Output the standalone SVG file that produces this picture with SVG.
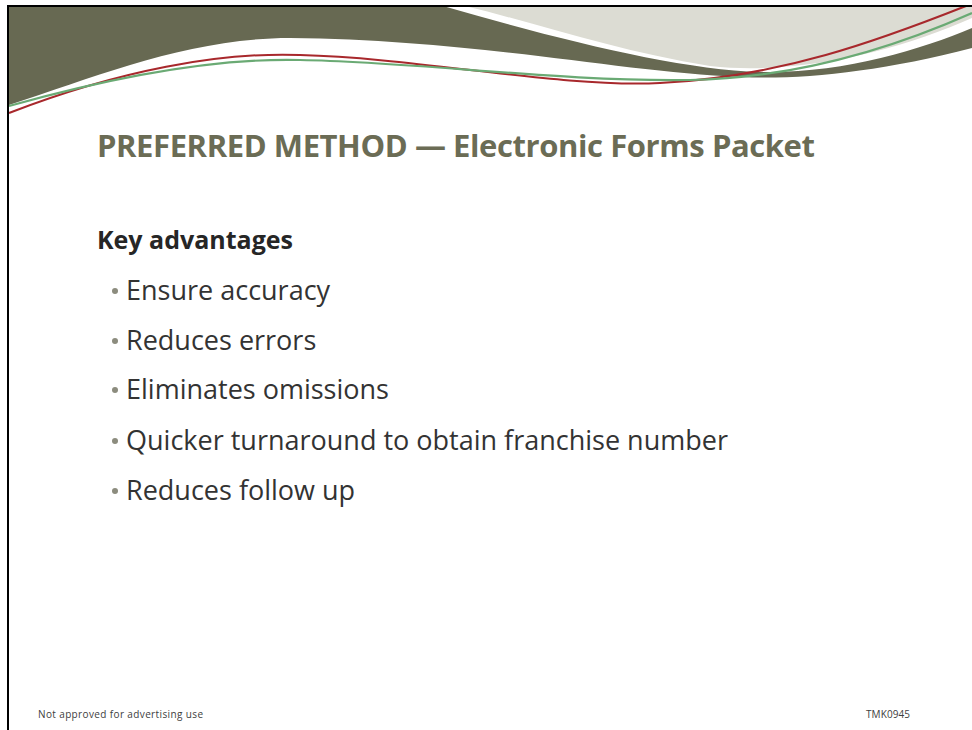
<svg xmlns="http://www.w3.org/2000/svg" width="972" height="730" viewBox="0 0 972 730">
<style>
.title{font-family:"Open Sans","Liberation Sans",sans-serif;font-weight:bold;font-size:31px;fill:#6b6c55}
.head{font-family:"Open Sans","Liberation Sans",sans-serif;font-weight:bold;font-size:25px;fill:#262626}
.item{font-family:"Open Sans","Liberation Sans",sans-serif;font-size:27px;fill:#333333}
.foot{font-family:"Open Sans","Liberation Sans",sans-serif;font-size:10px;fill:#404040}
.dot{fill:#8c8c7e}
</style>
<rect width="972" height="730" fill="#ffffff"/>
<g id="banner">
<path d="M 465 6 C 540 24 620 52 710 66 C 800 76 900 50 972 18 L 972 6 Z" fill="#dcdcd3"/>
<path d="M 9 6 L 443 6 C 560 40 680 70 760 72 C 840 74 920 50 972 28 L 972 48 C 880 72 800 80 740 77 C 620 72 480 40 290 38 C 190 38 100 75 9 105 Z" fill="#676952"/>
<path d="M 9 113 C 120 70 220 52 300 55 C 420 58 560 88 660 83 C 780 77 880 40 966 6" fill="none" stroke="#a8282c" stroke-width="2"/>
<path d="M 9 106 C 120 75 220 58 300 60 C 420 62 560 82 690 80 C 800 78 900 45 972 13" fill="none" stroke="#6aaa74" stroke-width="2.2"/>
</g>
<g id="frame">
<path d="M 8 730 L 8 6 L 972 6" fill="none" stroke="#000000" stroke-width="2"/>
</g>
<g id="title">
<text class="title" x="97" y="157" textLength="718">PREFERRED METHOD — Electronic Forms Packet</text>
</g>
<g id="content">
<text class="head" x="97" y="249">Key advantages</text>
<circle class="dot" cx="115" cy="291" r="3"/>
<text class="item" x="126" y="300">Ensure accuracy</text>
<circle class="dot" cx="115" cy="341" r="3"/>
<text class="item" x="126" y="350">Reduces errors</text>
<circle class="dot" cx="115" cy="390" r="3"/>
<text class="item" x="126" y="399">Eliminates omissions</text>
<circle class="dot" cx="115" cy="441" r="3"/>
<text class="item" x="126" y="450">Quicker turnaround to obtain franchise number</text>
<circle class="dot" cx="115" cy="491" r="3"/>
<text class="item" x="126" y="500">Reduces follow up</text>
</g>
<g id="footer">
<text class="foot" x="38" y="718" textLength="165">Not approved for advertising use</text>
<text class="foot" x="866" y="718" textLength="44">TMK0945</text>
</g>
</svg>
